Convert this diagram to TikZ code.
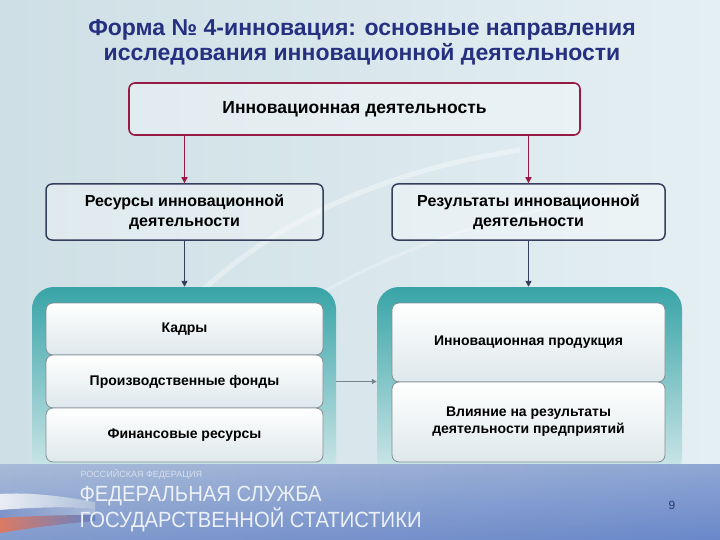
\documentclass[tikz,border=0pt]{standalone}
\usepackage{fontspec}
\setmainfont{Liberation Sans}
\usetikzlibrary{arrows.meta, positioning, calc}

\definecolor{titleblue}{RGB}{38,48,128}
\definecolor{crimson}{RGB}{150,25,70}
\definecolor{navyline}{RGB}{55,62,92}
\definecolor{tealtop}{RGB}{56,164,167}
\definecolor{tealbot}{RGB}{212,233,235}
\definecolor{boxline}{RGB}{128,142,148}
\definecolor{boxbot}{RGB}{222,232,235}
\definecolor{bgleft}{RGB}{206,223,229}
\definecolor{bgright}{RGB}{228,239,243}
\definecolor{bannertop}{RGB}{182,198,220}
\definecolor{bannerbot}{RGB}{98,128,196}
\definecolor{bannerR}{RGB}{112,142,206}
\definecolor{flagblue}{RGB}{120,140,200}
\definecolor{flagred}{RGB}{228,118,88}
\definecolor{arrowgrey}{RGB}{118,132,142}
\definecolor{agencytext}{RGB}{236,240,247}

\begin{document}
\begin{tikzpicture}[x=1pt, y=-1pt,
    headbox/.style={draw=crimson, line width=1.6pt, rounded corners=6pt,
      fill=white, fill opacity=0.35, text opacity=1, inner sep=0pt,
      font=\bfseries\fontsize{17.5}{20}\selectfont},
    groupbox/.style={draw=navyline, line width=1.5pt, rounded corners=6pt,
      fill=white, fill opacity=0.35, text opacity=1, inner sep=0pt,
      align=center, font=\bfseries\fontsize{16}{20}\selectfont},
    panel/.style={rounded corners=22pt, top color=tealtop, bottom color=tealbot,
      inner sep=0pt},
    itembox/.style={draw=boxline, line width=0.8pt, rounded corners=7pt,
      top color=white, bottom color=boxbot, inner sep=0pt, align=center,
      font=\bfseries\fontsize{14}{17}\selectfont},
    toparrow/.style={draw=crimson, line width=1.6pt, -{Triangle[length=6pt,width=6pt]}},
    downarrow/.style={draw=navyline, line width=1.6pt, -{Triangle[length=6pt,width=6pt]}},
    sidearrow/.style={draw=arrowgrey, line width=1.3pt, -{Triangle[length=5pt,width=5pt]}}
  ]
  \useasboundingbox (0,0) rectangle (720,540);
  % background of the slide
  \shade[left color=bgleft, right color=bgright] (0,0) rectangle (720,540);
  \draw[white, opacity=0.35, line width=5pt] (40,540) .. controls (120,330) and (260,190) .. (520,150);
  \draw[white, opacity=0.25, line width=3pt] (110,540) .. controls (180,360) and (330,240) .. (640,190);

  % title
  \node[titleblue, align=center, font=\bfseries\fontsize{23}{25}\selectfont] (title) at (362,42)
    {Форма № 4-инновация: основные направления\\исследования инновационной деятельности};

  % top box
  \node[headbox, minimum width=451pt, minimum height=52pt] (innov) at (354.5,109)
    {Инновационная деятельность};

  % the two groups
  \node[groupbox, minimum width=277pt, minimum height=56pt] (res) at (184.5,212)
    {Ресурсы инновационной\\деятельности};
  \node[groupbox, minimum width=273pt, minimum height=56pt] (resl) at (528.5,212)
    {Результаты инновационной\\деятельности};

  \draw[toparrow] (innov.south -| res.north) -- (res.north);
  \draw[toparrow] (innov.south -| resl.north) -- (resl.north);

  % teal panels
  \node[panel, minimum width=304pt, minimum height=193pt] (leftpanel) at (184,383.5) {};
  \node[panel, minimum width=305pt, minimum height=193pt] (rightpanel) at (529.5,383.5) {};

  \draw[downarrow] (res.south) -- (res.south |- leftpanel.north);
  \draw[downarrow] (resl.south) -- (resl.south |- rightpanel.north);

  % resources
  \node[itembox, minimum width=277pt, minimum height=52pt] (staff) at (184.5,329) {Кадры};
  \node[itembox, minimum width=277pt, minimum height=53pt] (prod) at (184.5,381.5) {Производственные фонды};
  \node[itembox, minimum width=277pt, minimum height=54pt] (fin) at (184.5,435) {Финансовые ресурсы};

  % results
  \node[itembox, minimum width=273pt, minimum height=79pt] (goods) at (528.5,342.5) {Инновационная продукция};
  \node[itembox, minimum width=273pt, minimum height=80pt] (effect) at (528.5,422)
    {Влияние на результаты\\деятельности предприятий};

  \draw[sidearrow] (leftpanel.east |- prod) -- (rightpanel.west |- prod);

  % bottom banner
  \shade[top color=bannertop, bottom color=bannerbot] (0,464) rectangle (720,540);
  \shade[left color=bannertop!70!bannerbot, middle color=bannertop!70!white, right color=bannerR, opacity=0.55]
    (0,464) rectangle (720,540);
  \shade[left color=white, right color=bannertop, opacity=0.8] (0,494) .. controls (30,492) and (60,496) .. (95,502)
    -- (95,509) .. controls (60,506) and (30,508) .. (0,510) -- cycle;
  \shade[left color=flagblue, right color=bannertop, opacity=0.7] (0,510) .. controls (30,508) and (60,506) .. (95,509)
    -- (95,515) .. controls (60,515) and (30,516) .. (0,518) -- cycle;
  \shade[left color=flagred, right color=bannerbot, opacity=0.9] (0,518) .. controls (30,516) and (60,515) .. (95,515)
    -- (95,521) .. controls (60,524) and (30,528) .. (0,533) -- cycle;
  \node[anchor=west, text={rgb,255:red,214;green,222;blue,236}, font=\fontsize{9}{10}\selectfont] (country) at (77,474)
    {РОССИЙСКАЯ ФЕДЕРАЦИЯ};
  \node[anchor=west, text=agencytext, font=\fontsize{22}{24}\selectfont] (agency1) at (76,496)
    {\scalebox{0.92}[1]{ФЕДЕРАЛЬНАЯ СЛУЖБА}};
  \node[anchor=west, text=agencytext, font=\fontsize{22}{24}\selectfont] (agency2) at (76,520)
    {\scalebox{0.92}[1]{ГОСУДАРСТВЕННОЙ СТАТИСТИКИ}};
  \node[text={rgb,255:red,48;green,58;blue,108}, font=\fontsize{12}{14}\selectfont] (page) at (672,505) {9};
\end{tikzpicture}
\end{document}
